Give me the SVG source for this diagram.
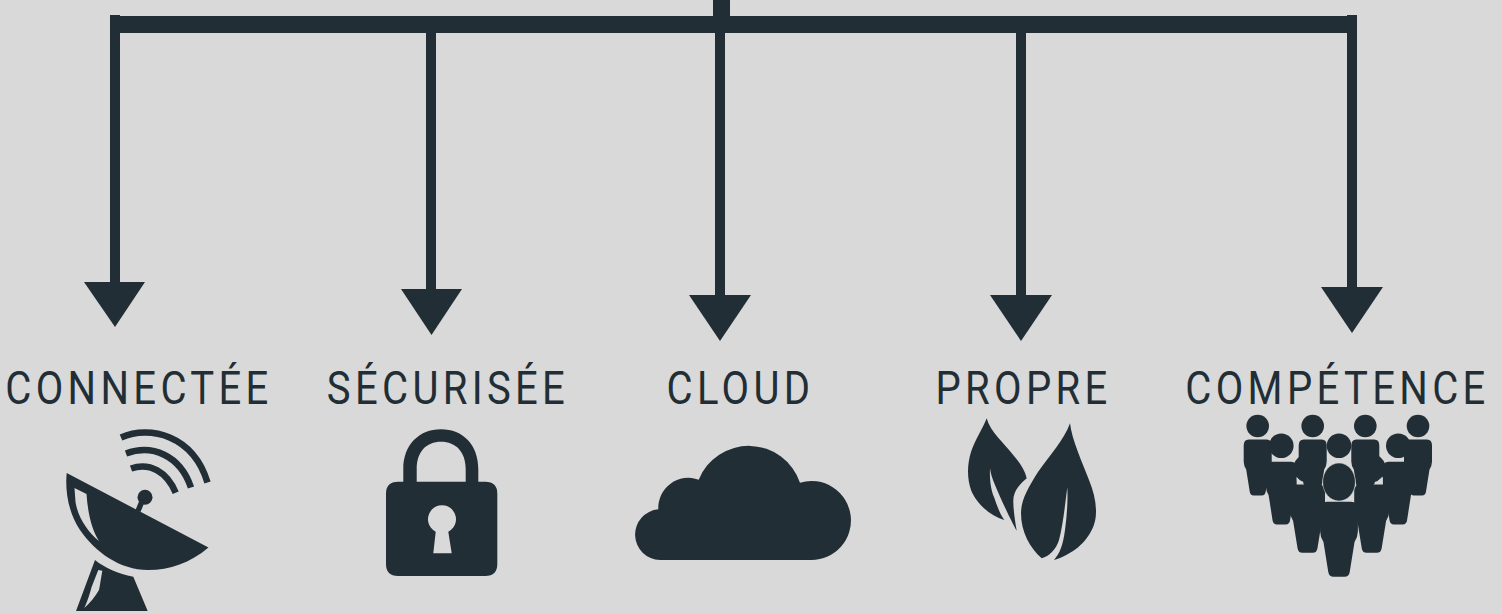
<svg xmlns="http://www.w3.org/2000/svg" xmlns:xlink="http://www.w3.org/1999/xlink" width="1502" height="614" viewBox="0 0 1502 614">
<style>
.d{fill:#222e35}
.g{fill:#d9d9d9}
.w{fill:none;stroke:#222e35;stroke-width:6.500}
.t{font-family:Roboto,"Liberation Sans",sans-serif;font-size:46px;letter-spacing:5px;fill:#222e35;text-anchor:middle}
</style>
<defs>
<path id="body" d="M-9 0H9Q14 0 14 6V22Q14 26 11.500 30L8 52Q7.500 56 4 56H-4Q-7.500 56-8 52L-11.500 30Q-14 26-14 22V6Q-14 0-9 0Z"/>
</defs>
<rect width="1502" height="614" class="g"/>
<g id="connectors" class="d">
<rect x="110" y="16" width="1247" height="17"/>
<rect x="713" y="0" width="17" height="16"/>
<rect x="110" y="15" width="10" height="268"/><polygon points="84,282 145,282 115,327"/>
<rect x="426" y="33" width="10" height="257"/><polygon points="401,289 462,289 431.500,335"/>
<rect x="715" y="33" width="10" height="263"/><polygon points="689,295 751,295 720,341"/>
<rect x="1016" y="33" width="10" height="263"/><polygon points="990,295 1052,295 1021,341"/>
<rect x="1347" y="15" width="10" height="273"/><polygon points="1321,287 1383,287 1352,333"/>
</g>
<g id="connectee">
<text class="t" transform="translate(139 404) scale(.87 1)">CONNECTÉE</text>
<g class="d">
<path fill-rule="evenodd" d="M66.700 473L208.500 547.500C190 563 170 570 148 570C120 570 95 552 80 530C68 512 65 490 66.700 473ZM74.500 488L86.500 494C88 515 92 530 99 541C88 532 78 518 75.500 502Z"/>
<path fill-rule="evenodd" d="M95 560C105 568 118 574 133.300 576.700L147.700 611H76ZM98.300 570L102.300 570.700C101 578 100 585 99 590C95 597 90 603 84.300 608C88 600 90 593 91.700 586.700Z"/>
<circle cx="145" cy="497.300" r="7.500"/>
<path d="M135.500 510L140 499L145 501L140.500 512Z"/>
</g>
<path class="w" d="M121 437.500C150 425 193 435 207.500 482.500"/>
<path class="w" d="M126 453.500C152 444 180 455 191 487.500"/>
<path class="w" d="M131 468.500C150 462 167 472 175.700 492.700"/>
</g>
<g id="securisee">
<text class="t" transform="translate(448 404) scale(.87 1)">SÉCURISÉE</text>
<path class="d" fill-rule="evenodd" d="M398 481.700H403.300V469C403.300 445 419 429.300 441 429.300C463 429.300 478.300 445 478.300 469V481.700H485.300Q497.300 481.700 497.300 493.700V564Q497.300 576 485.300 576H398Q386 576 386 564V493.700Q386 481.700 398 481.700ZM416.700 481.700H465.700V469C465.700 452 456 441.700 441 441.700C426 441.700 416.700 452 416.700 469Z"/>
<path class="g" d="M433.300 553.300L435.700 531.700A14 14 0 1 1 448.300 531.700L451.700 553.300Z"/>
</g>
<g id="cloud">
<text class="t" transform="translate(740.500 404) scale(.87 1)">CLOUD</text>
<path class="d" d="M660 560A25.400 25.400 0 0 1 658.300 509.300A30 30 0 0 1 698.700 479.700A54 54 0 0 1 800 482.700A39.500 39.500 0 1 1 811 560Z"/>
</g>
<g id="propre">
<text class="t" transform="translate(1023.500 404) scale(.87 1)">PROPRE</text>
<path class="d" d="M986.700 418.300C990 432 1005 444 1014 456C1021 464 1025 471 1026.700 478.300C1018 486 1013 492 1013.300 502C1013.500 511 1015 521 1016.700 530.700C1011 521 1000 497 995 485C992 478 990.500 473 990 468.300C989.500 480 991 490 994 497C997 506 1000 514 1004.300 520C990 516 976 503 971 490C967 478 967 465 971 452C975 440 983 428 986.700 418.300Z"/>
<path class="d" d="M1070 423.300C1072 440 1082 462 1089 480C1094 492 1097 505 1095.700 517C1094 532 1082 547 1068 554C1063 557 1058 559 1054 560C1060 553 1063 545 1065 530C1067 515 1068 500 1067.300 487.300C1065 505 1063 525 1059 540C1056 550 1049 556 1041.700 558.300C1030 548 1021 532 1021 513.300C1021 500 1028 488 1038 472C1050 455 1064 440 1070 423.300Z"/>
</g>
<g id="competence">
<text class="t" transform="translate(1337.500 404) scale(.87 1)">COMPÉTENCE</text>
<g class="d">
<circle cx="1257.700" cy="426" r="11.300"/><circle cx="1312.700" cy="426" r="11.300"/><circle cx="1365.300" cy="426" r="11.300"/><circle cx="1418" cy="426" r="11.300"/>
<use xlink:href="#body" href="#body" transform="translate(1257.700 439.500)"/>
<use xlink:href="#body" href="#body" transform="translate(1312.700 439.500)"/>
<use xlink:href="#body" href="#body" transform="translate(1365.300 439.500)"/>
<use xlink:href="#body" href="#body" transform="translate(1418 439.500)"/>
<circle cx="1281.300" cy="445.700" r="12.300"/><circle cx="1339" cy="445.700" r="12.300"/><circle cx="1398.300" cy="445.700" r="12.300"/>
<use xlink:href="#body" href="#body" transform="translate(1281.300 461.700) scale(1.100 1.120)"/>
<use xlink:href="#body" href="#body" transform="translate(1398.300 461.700) scale(1.100 1.120)"/>
<circle cx="1307.300" cy="468.300" r="14"/><circle cx="1371.700" cy="468.300" r="14"/>
</g>
<polygon class="g" points="1296.700,477 1304,485 1297,485"/>
<polygon class="g" points="1382,477 1373.300,485 1381.500,485"/>
<g class="d">
<use xlink:href="#body" href="#body" transform="translate(1307.500 484.500) scale(1.250 1.220)"/>
<use xlink:href="#body" href="#body" transform="translate(1371.700 484.500) scale(1.250 1.220)"/>
<ellipse cx="1339" cy="482" rx="16.300" ry="19" stroke="#d9d9d9" stroke-width="0.500"/>
<use xlink:href="#body" href="#body" transform="translate(1339 501.700) scale(1.350 1.340)"/>
</g>
</g>
</svg>
